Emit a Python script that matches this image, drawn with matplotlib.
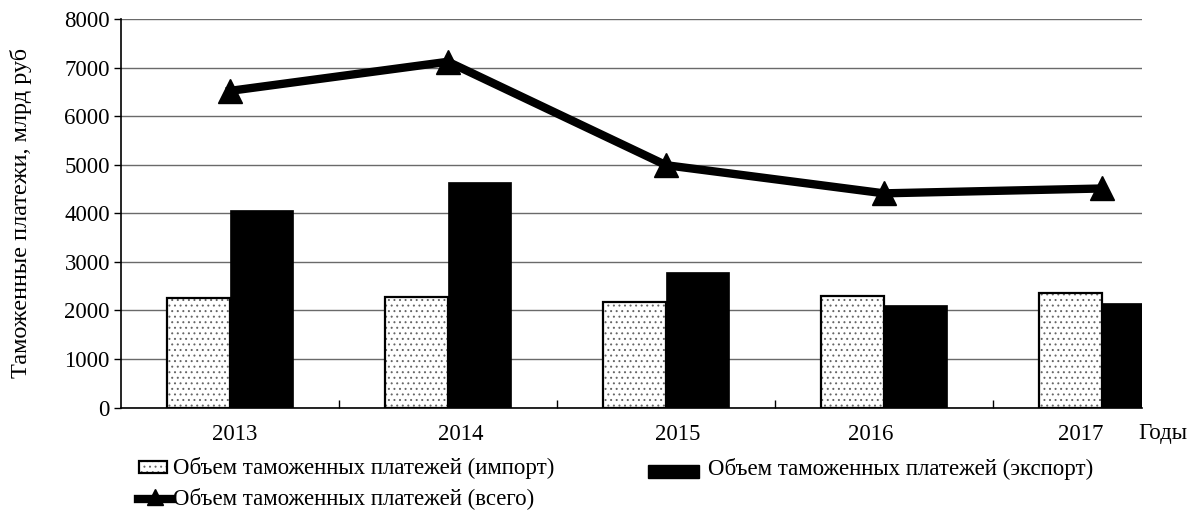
import numpy as np
import matplotlib
matplotlib.use("Agg")
import matplotlib.pyplot as plt
from matplotlib.patches import Rectangle
from matplotlib.lines import Line2D

# DATA
years = ["2013", "2014", "2015", "2016", "2017"]
imports = [2250, 2285, 2180, 2305, 2365]
exports = [4070, 4650, 2790, 2105, 2160]
total = [6520, 7120, 4990, 4410, 4510]

# shift of the year labels relative to the group centres (as in the source)
label_shift = [0.02, 0.06, 0.055, -0.06, -0.1]

plt.rcParams["font.family"] = ["Liberation Serif", "DejaVu Serif"]
plt.rcParams["hatch.linewidth"] = 0.7

W, H = 1197, 518
fig = plt.figure(figsize=(W / 100, H / 100), dpi=100)
ax = fig.add_axes([121 / W, 1 - 407.5 / H, (1142 - 121) / W, (407.5 - 19) / H])

x = np.arange(len(years))
bw = 0.29

# import bars: hatched fill, then black outline on top
ax.bar(x - bw / 2, imports, bw, color="white", edgecolor="#666666", hatch="...", lw=0, zorder=2)
ax.bar(x - bw / 2, imports, bw, fill=False, edgecolor="black", lw=1.6, zorder=3)
ax.bar(x + bw / 2, exports, bw, color="black", edgecolor="black", lw=0.5, zorder=3)

ax.plot(x, total, color="black", lw=6, marker="^", markersize=17, zorder=5, clip_on=False)

ax.set_xlim(-0.5, -0.5 + (1142 - 121) / 218)
ax.set_ylim(0, 8000)
ax.set_yticks(range(0, 8001, 1000))
ax.yaxis.grid(True, color="#6a6a6a", lw=1)
ax.set_axisbelow(True)
ax.tick_params(axis="y", direction="out", length=5, width=1, labelsize=16.5, pad=3)

ax.set_xticks(x + np.array(label_shift))
ax.set_xticklabels(years)
ax.set_xticks(x[:-1] + 0.5, minor=True)
ax.tick_params(axis="x", which="major", length=0, labelsize=16.5, pad=12)
ax.tick_params(axis="x", which="minor", direction="in", length=6, width=1)

for s in ["top", "right"]:
    ax.spines[s].set_visible(False)
ax.spines["left"].set_linewidth(1.2)
ax.spines["bottom"].set_linewidth(1.2)

fig.text(21 / W, 1 - 213 / H, "Таможенные платежи, млрд руб", rotation=90,
         ha="center", va="center", fontsize=17.5)
fig.text(1163 / W, 1 - 433 / H, "Годы", ha="center", va="center", fontsize=16.5)

# legend drawn in pixel coordinates
lax = fig.add_axes([0, 0, 1, 1], zorder=-1)
lax.set_xlim(0, W)
lax.set_ylim(H, 0)
lax.axis("off")

lax.add_patch(Rectangle((139, 461), 28, 12, facecolor="white", edgecolor="#666666",
                        hatch="...", lw=0))
lax.add_patch(Rectangle((139, 461), 28, 12, fill=False, edgecolor="black", lw=1.6))
lax.text(173, 468, "Объем таможенных платежей (импорт)", va="center", fontsize=16.5)

lax.add_patch(Rectangle((648, 465), 51, 13, facecolor="black", edgecolor="black"))
lax.text(708, 469, "Объем таможенных платежей (экспорт)", va="center", fontsize=16.5)

lax.add_line(Line2D([138, 172], [499, 499], color="black", lw=6))
lax.add_line(Line2D([155], [497], color="black", marker="^", markersize=12))
lax.text(173, 498, "Объем таможенных платежей (всего)", va="center", fontsize=16.5)

fig.savefig("out.png", dpi=100)
